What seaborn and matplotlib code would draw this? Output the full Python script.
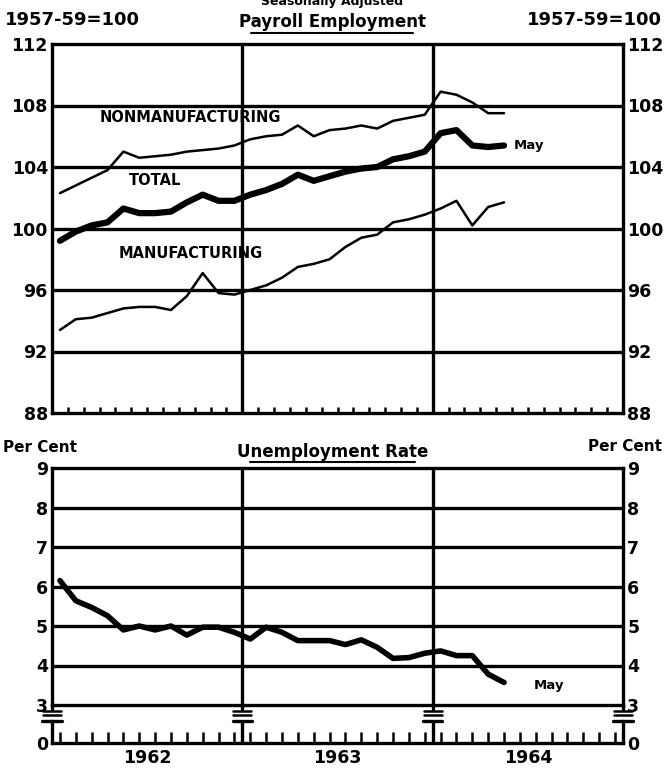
import matplotlib
matplotlib.use("Agg")
import matplotlib.pyplot as plt
import numpy as np
import pandas as pd
import seaborn as sns
from matplotlib.lines import Line2D

# Monthly data, Jan 1962 - May 1964
months = pd.period_range("1962-01", "1964-05", freq="M")
nonmanufacturing = [102.3, 102.8, 103.3, 103.8, 105.0, 104.6, 104.7, 104.8, 105.0, 105.1,
                    105.2, 105.4, 105.8, 106.0, 106.1, 106.7, 106.0, 106.4, 106.5, 106.7,
                    106.5, 107.0, 107.2, 107.4, 108.9, 108.7, 108.2, 107.5, 107.5]
total = [99.2, 99.8, 100.2, 100.4, 101.3, 101.0, 101.0, 101.1, 101.7, 102.2,
         101.8, 101.8, 102.2, 102.5, 102.9, 103.5, 103.1, 103.4, 103.7, 103.9,
         104.0, 104.5, 104.7, 105.0, 106.2, 106.4, 105.4, 105.3, 105.4]
manufacturing = [93.4, 94.1, 94.2, 94.5, 94.8, 94.9, 94.9, 94.7, 95.6, 97.1,
                 95.8, 95.7, 96.0, 96.3, 96.8, 97.5, 97.7, 98.0, 98.8, 99.4,
                 99.6, 100.4, 100.6, 100.9, 101.3, 101.8, 100.2, 101.4, 101.7]
unemployment = [6.15, 5.64, 5.47, 5.26, 4.9, 5.0, 4.9, 5.0, 4.77, 4.97,
                4.97, 4.84, 4.67, 4.97, 4.84, 4.63, 4.63, 4.63, 4.53, 4.65,
                4.46, 4.18, 4.2, 4.31, 4.37, 4.25, 4.25, 3.78, 3.57]

years = ["1962", "1963", "1964"]
emp_ticks = [88, 92, 96, 100, 104, 108, 112]
unemp_ticks = [3, 4, 5, 6, 7, 8, 9]

# month position (center of month slot), Jan 1962 = 0.5
x = (months - pd.Period("1962-01", freq="M")).map(lambda d: d.n).to_numpy() + 0.5
emp = pd.DataFrame({"x": x, "non": nonmanufacturing, "tot": total, "man": manufacturing})
unemp = pd.DataFrame({"x": x, "rate": unemployment})

sns.set_style("white")
plt.rcParams["font.family"] = ["DejaVu Sans"]
plt.rcParams["font.weight"] = "bold"
for key in ("text.color", "xtick.color", "ytick.color", "axes.labelcolor"):
    plt.rcParams[key] = "black"

fig = plt.figure(figsize=(6.65, 7.72), dpi=100)
W, H = 665, 772


def fx(px):
    return px / W


def fy(py):
    return 1 - py / H


ax1 = fig.add_axes([fx(52), fy(413), fx(623) - fx(52), fy(44) - fy(413)])
ax2 = fig.add_axes([fx(52), fy(705), fx(623) - fx(52), fy(468) - fy(705)])
ax3 = fig.add_axes([fx(52), fy(743), fx(623) - fx(52), fy(721) - fy(743)])

LW = 2.4
for ax in (ax1, ax2, ax3):
    ax.set_xlim(0, 36)
    for s in ax.spines.values():
        s.set_linewidth(LW)
        s.set_color("black")
    ax.axvline(12, color="black", lw=LW)
    ax.axvline(24, color="black", lw=LW)

# --- Payroll employment ---
sns.lineplot(data=emp, x="x", y="non", ax=ax1, color="black", lw=1.8)
sns.lineplot(data=emp, x="x", y="tot", ax=ax1, color="black", lw=4.5)
sns.lineplot(data=emp, x="x", y="man", ax=ax1, color="black", lw=1.8)
ax1.set_ylim(88, 112)
for v in emp_ticks[1:-1]:
    ax1.axhline(v, color="black", lw=LW, zorder=0)
ax1.set_yticks(emp_ticks)
ax1.tick_params(axis="y", length=0, labelsize=12.5, labelleft=True, labelright=True, pad=3)
ax1.set_xticks(np.arange(0.5, 36, 1))
ax1.set_xticks(np.arange(1, 36, 1), minor=True)
ax1.tick_params(axis="x", which="major", direction="in", length=8, width=1.8, labelbottom=False)
ax1.tick_params(axis="x", which="minor", direction="in", length=4, width=1.8, bottom=True)
ax1.set_xlabel("")
ax1.set_ylabel("")
ax1.text(8.75, 107.25, "NONMANUFACTURING", ha="center", va="center", fontsize=10.5, fontweight="heavy")
ax1.text(6.5, 103.1, "TOTAL", ha="center", va="center", fontsize=10.5, fontweight="heavy")
ax1.text(8.75, 98.4, "MANUFACTURING", ha="center", va="center", fontsize=10.5, fontweight="heavy")
ax1.text(29.1, 105.4, "May", ha="left", va="center", fontsize=9.5, fontweight="heavy")

# --- Unemployment rate ---
sns.lineplot(data=unemp, x="x", y="rate", ax=ax2, color="black", lw=4)
ax2.set_ylim(3, 9)
for v in unemp_ticks[1:-1]:
    ax2.axhline(v, color="black", lw=LW, zorder=0)
ax2.set_yticks(unemp_ticks)
ax2.tick_params(axis="y", length=0, labelsize=12.5, labelleft=True, labelright=True, pad=3)
ax2.set_xticks([])
ax2.set_xlabel("")
ax2.set_ylabel("")
ax2.text(30.4, 3.5, "May", ha="left", va="center", fontsize=9.5, fontweight="heavy")

# bottom strip with zero baseline and year labels
ax3.set_ylim(0, 1)
ax3.spines["top"].set_visible(False)
ax3.set_yticks([0])
ax3.tick_params(axis="y", length=0, labelsize=12.5, labelleft=True, labelright=True, pad=3)
ax3.set_xticks([6, 18, 30])
ax3.set_xticklabels(years, fontsize=12.5, fontweight="bold")
ax3.set_xticks(np.arange(0.5, 36, 1), minor=True)
ax3.tick_params(axis="x", which="major", length=0, pad=4)
ax3.tick_params(axis="x", which="minor", direction="in", length=8, width=1.8, bottom=True)
for v in (0, 12, 24, 36):
    ax3.plot([v - 0.6, v + 0.6], [1, 1], color="black", lw=LW, clip_on=False)

# axis break marks
for px in (52, 52 + 571 / 3, 52 + 2 * 571 / 3, 623):
    for py in (711, 715):
        fig.add_artist(Line2D([fx(px - 9), fx(px + 9)], [fy(py), fy(py)], color="black", lw=1.8))
    fig.add_artist(Line2D([fx(px), fx(px)], [fy(705), fy(709)], color="black", lw=LW))

# headers
fig.text(0.5, fy(2), "Seasonally Adjusted", ha="center", va="center", fontsize=9, fontweight="heavy")
fig.text(0.5, fy(22), "Payroll Employment", ha="center", va="center", fontsize=12, fontweight="heavy")
fig.add_artist(Line2D([fx(251), fx(413)], [fy(33), fy(33)], color="black", lw=1.5))
fig.text(fx(5), fy(20), "1957-59=100", ha="left", va="center", fontsize=13, fontweight="bold")
fig.text(fx(662), fy(20), "1957-59=100", ha="right", va="center", fontsize=13, fontweight="bold")
fig.text(0.5, fy(452), "Unemployment Rate", ha="center", va="center", fontsize=12, fontweight="heavy")
fig.add_artist(Line2D([fx(250), fx(415)], [fy(462), fy(462)], color="black", lw=1.5))
fig.text(fx(3), fy(448), "Per Cent", ha="left", va="center", fontsize=11, fontweight="bold")
fig.text(fx(662), fy(446), "Per Cent", ha="right", va="center", fontsize=11, fontweight="bold")

fig.savefig("out.png", dpi=100)
